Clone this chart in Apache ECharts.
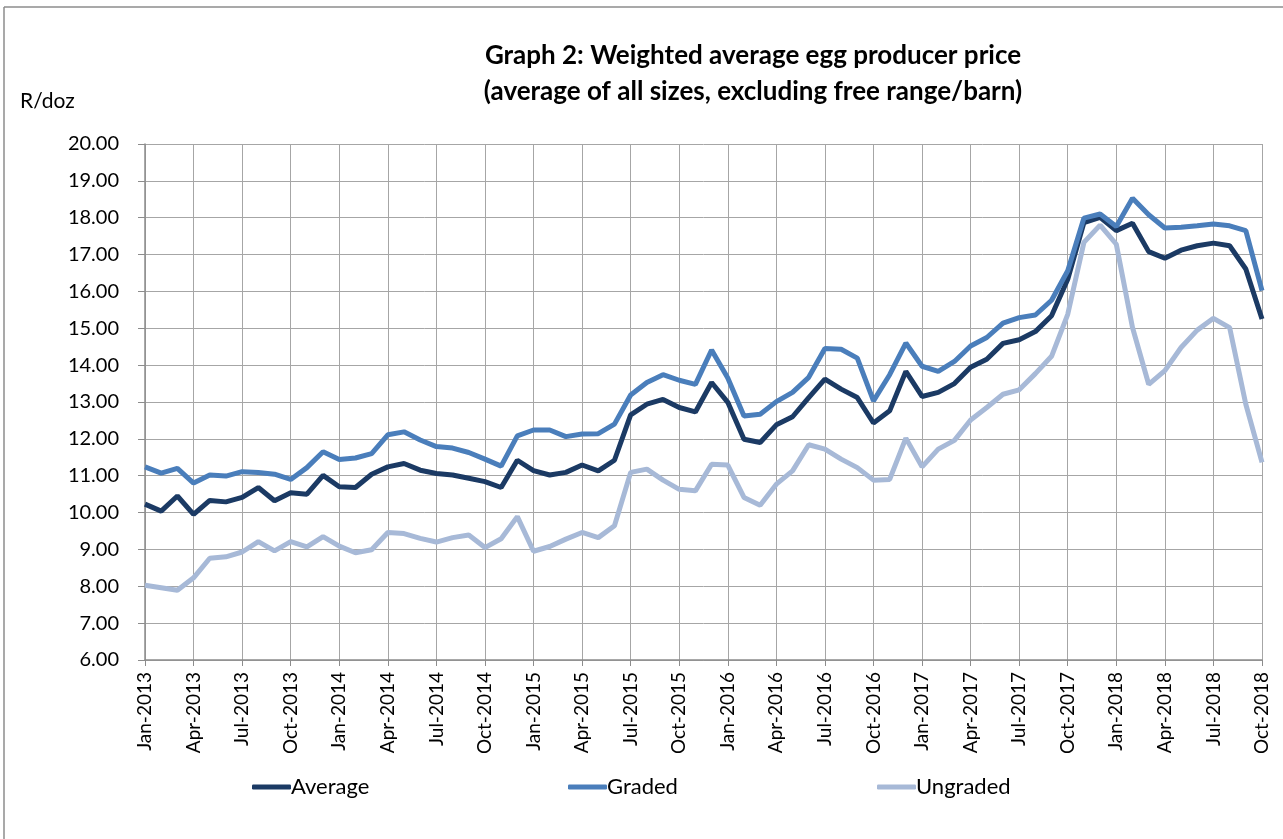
<!DOCTYPE html>
<html>
<head>
<meta charset="utf-8">
<script src="https://cdn.jsdelivr.net/npm/echarts@6/dist/echarts.min.js"></script>
<style>
  html, body { margin: 0; padding: 0; background: #fff; }
  #chart { width: 1283px; height: 839px; }
</style>
</head>
<body>
<div id="chart"></div>
<script>
// month labels, Jan-2013 .. Oct-2018
const monthNames = ['Jan', 'Feb', 'Mar', 'Apr', 'May', 'Jun', 'Jul', 'Aug', 'Sep', 'Oct', 'Nov', 'Dec']
const years = [2013, 2014, 2015, 2016, 2017, 2018]
const lastMonthIndex = 9 // Oct-2018

const average = [
  10.23, 10.04, 10.45, 9.95, 10.33, 10.29, 10.41, 10.68, 10.32, 10.54, 10.50, 11.01,
  10.70, 10.68, 11.04, 11.24, 11.33, 11.15, 11.06, 11.02, 10.93, 10.84, 10.68, 11.42,
  11.14, 11.02, 11.09, 11.29, 11.13, 11.42, 12.65, 12.94, 13.07, 12.85, 12.73, 13.53,
  12.99, 11.99, 11.90, 12.38, 12.60, 13.12, 13.62, 13.35, 13.12, 12.43, 12.76, 13.83,
  13.15, 13.26, 13.50, 13.94, 14.16, 14.59, 14.69, 14.91, 15.34, 16.33, 17.87, 18.01,
  17.65, 17.85, 17.08, 16.90, 17.12, 17.24, 17.31, 17.24, 16.61, 15.25
]
const graded = [
  11.24, 11.07, 11.20, 10.80, 11.02, 10.99, 11.11, 11.09, 11.04, 10.90, 11.22, 11.65,
  11.44, 11.48, 11.60, 12.11, 12.19, 11.97, 11.79, 11.75, 11.63, 11.45, 11.26, 12.08,
  12.24, 12.24, 12.06, 12.13, 12.14, 12.40, 13.19, 13.53, 13.74, 13.59, 13.48, 14.41,
  13.65, 12.62, 12.67, 13.01, 13.26, 13.67, 14.45, 14.43, 14.19, 13.03, 13.74, 14.60,
  13.97, 13.83, 14.10, 14.52, 14.75, 15.14, 15.29, 15.36, 15.76, 16.56, 17.99, 18.10,
  17.76, 18.53, 18.08, 17.72, 17.74, 17.78, 17.83, 17.78, 17.65, 16.02
]
const ungraded = [
  8.03, 7.96, 7.89, 8.23, 8.76, 8.80, 8.93, 9.21, 8.96, 9.21, 9.07, 9.35,
  9.09, 8.91, 8.99, 9.46, 9.43, 9.30, 9.20, 9.32, 9.39, 9.05, 9.29, 9.89,
  8.95, 9.08, 9.28, 9.46, 9.32, 9.64, 11.09, 11.18, 10.88, 10.63, 10.59, 11.31,
  11.29, 10.41, 10.20, 10.77, 11.13, 11.84, 11.72, 11.45, 11.22, 10.88, 10.90, 12.02,
  11.24, 11.72, 11.96, 12.51, 12.85, 13.21, 13.33, 13.77, 14.24, 15.38, 17.33, 17.80,
  17.28, 15.02, 13.48, 13.85, 14.48, 14.95, 15.27, 15.02, 12.94, 11.36
]

const categories = []
years.forEach((y, yi) => {
  monthNames.forEach((m, mi) => {
    if (yi === years.length - 1 && mi > lastMonthIndex) return
    categories.push(m + '-' + y)
  })
})

const FONT = 'Lato'
const colors = { Average: '#1b3a64', Graded: '#4a7ebb', Ungraded: '#a7b9d7' }

const chart = echarts.init(document.getElementById('chart'), null, { renderer: 'canvas' })

// one legend per item, Excel spaces them unevenly
const legendItem = (name, left) => ({
  data: [name],
  left: left,
  top: 776,
  padding: 0,
  icon: 'roundRect',
  itemWidth: 39,
  itemHeight: 5,
  itemGap: 0,
  textStyle: { fontFamily: FONT, fontSize: 22, color: '#000', padding: [0, 0, 0, -5] }
})

chart.setOption({
  animation: false,
  title: {
    text: 'Graph 2: Weighted average egg producer price\n(average of all sizes, excluding free range/barn)',
    left: 748,
    top: 33,
    textAlign: 'center',
    textStyle: { fontFamily: FONT, fontSize: 26, fontWeight: 'bold', color: '#000', lineHeight: 36 }
  },
  graphic: [
    { type: 'line', shape: { x1: 4, y1: 7, x2: 4, y2: 839 }, style: { stroke: '#8c8c8c', lineWidth: 1.5 } },
    { type: 'line', shape: { x1: 4, y1: 7, x2: 1283, y2: 7 }, style: { stroke: '#8c8c8c', lineWidth: 1.5 } }
  ],
  legend: [
    legendItem('Average', 252),
    legendItem('Graded', 568),
    legendItem('Ungraded', 877)
  ],
  grid: { left: 145, right: 21, top: 144, bottom: 179 },
  xAxis: {
    type: 'category',
    data: categories,
    boundaryGap: false,
    axisLine: { lineStyle: { color: '#8c8c8c', width: 1.5 } },
    axisTick: { show: true, interval: 2, length: 6, lineStyle: { color: '#8c8c8c' } },
    axisLabel: { interval: 2, rotate: 90, fontFamily: FONT, fontSize: 19, color: '#000', margin: 12 },
    splitLine: { show: true, interval: 2, lineStyle: { color: '#a6a6a6', width: 1 } }
  },
  yAxis: {
    type: 'value',
    min: 6,
    max: 20,
    interval: 1,
    name: 'R/doz',
    nameLocation: 'end',
    nameGap: 32,
    nameTextStyle: { fontFamily: FONT, fontSize: 21, color: '#000', align: 'left', padding: [0, 0, 0, -125] },
    axisLine: { show: true, lineStyle: { color: '#8c8c8c', width: 1.5 } },
    axisTick: { show: true, length: 7, lineStyle: { color: '#8c8c8c' } },
    axisLabel: { fontFamily: FONT, fontSize: 20, color: '#000', margin: 26, formatter: v => v.toFixed(2) },
    splitLine: { show: true, lineStyle: { color: '#a6a6a6', width: 1 } }
  },
  series: [
    { name: 'Average', type: 'line', data: average, showSymbol: false, lineStyle: { width: 5, color: colors.Average }, itemStyle: { color: colors.Average } },
    { name: 'Graded', type: 'line', data: graded, showSymbol: false, lineStyle: { width: 5, color: colors.Graded }, itemStyle: { color: colors.Graded } },
    { name: 'Ungraded', type: 'line', data: ungraded, showSymbol: false, lineStyle: { width: 5, color: colors.Ungraded }, itemStyle: { color: colors.Ungraded } }
  ]
})
</script>
</body>
</html>
